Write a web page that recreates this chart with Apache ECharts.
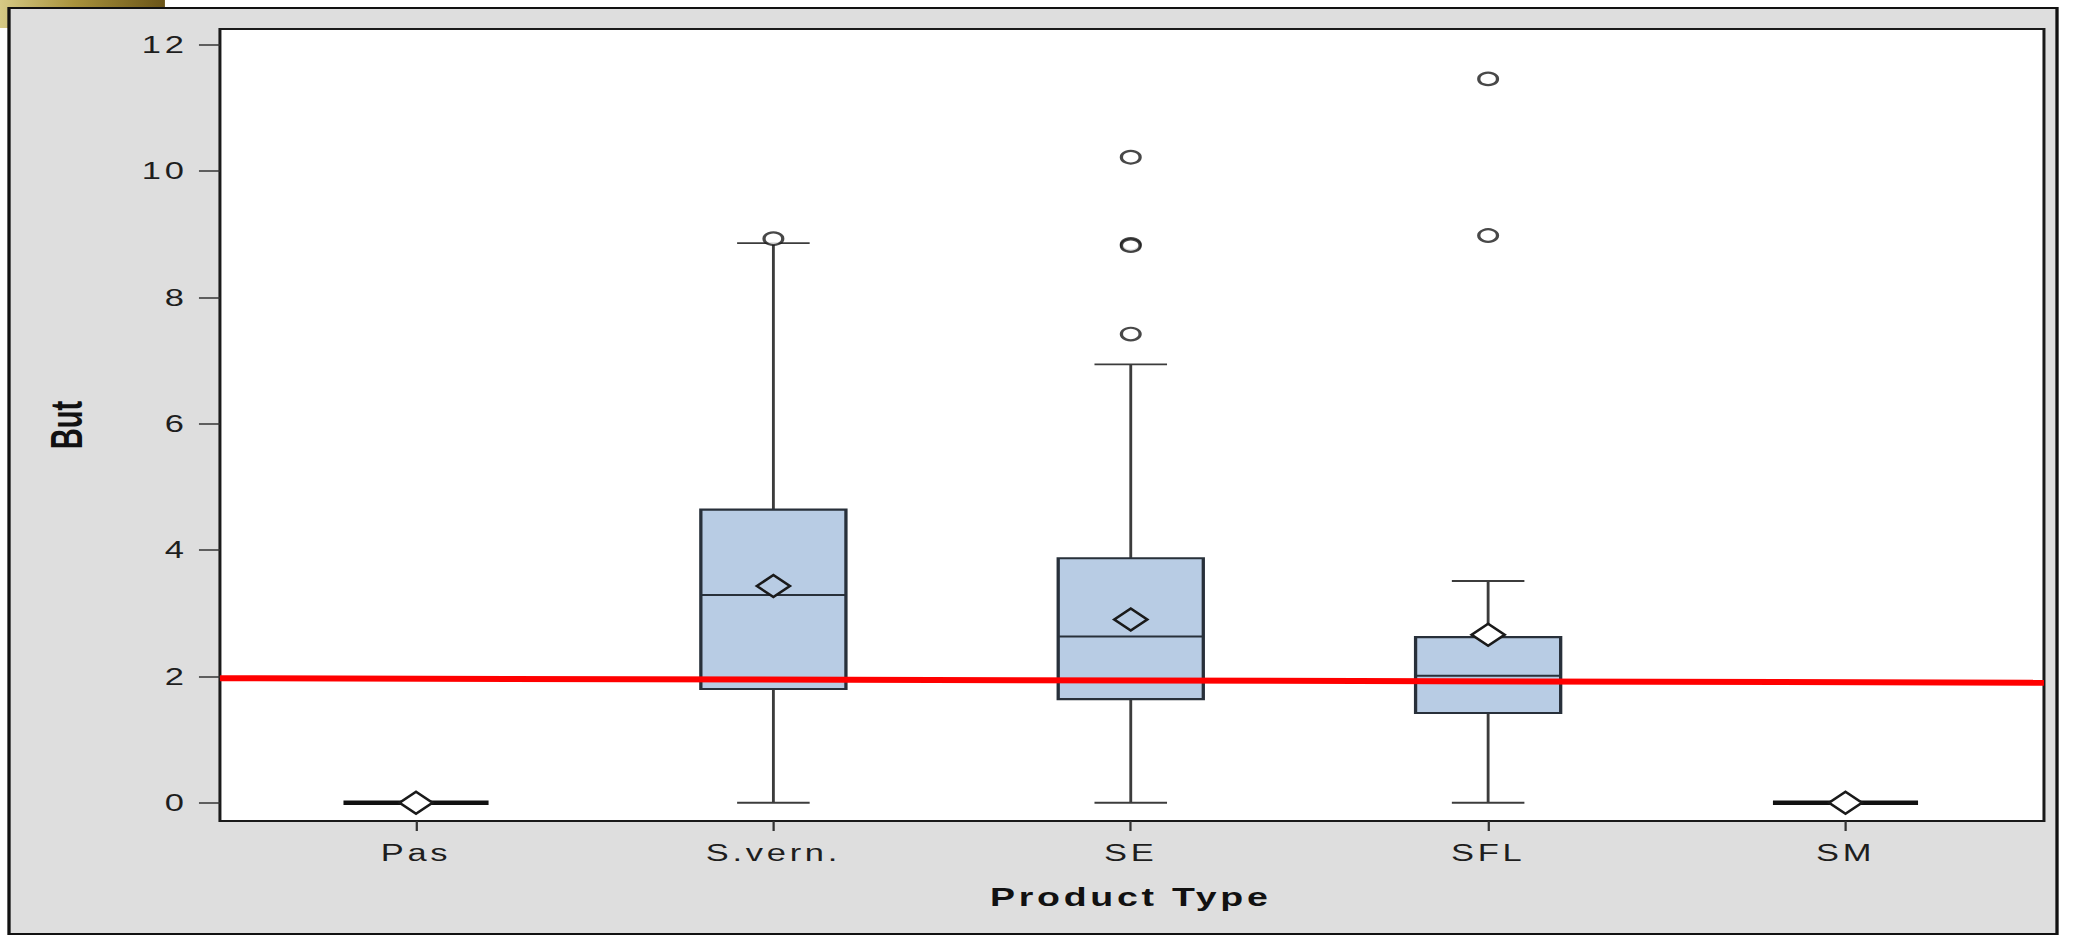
<!DOCTYPE html>
<html>
<head>
<meta charset="utf-8">
<script src="https://cdn.jsdelivr.net/npm/echarts@6/dist/echarts.min.js"></script>
<style>
  html, body { margin: 0; padding: 0; background: #ffffff; overflow: hidden; }
  #wrap { width: 2078px; height: 939px; overflow: hidden; position: relative; }
  #chart { width: 1386px; height: 939px; transform: scaleX(1.49928); transform-origin: 0 0; }
  #chart svg text { letter-spacing: 2.5px; }
  #chart svg text[style*="Narrow"] { letter-spacing: 0; }
</style>
</head>
<body>
<div id="wrap"><div id="chart"></div></div>
<script>
// ---- data ----
const categories  = ['Pas', 'S.vern.', 'SE', 'SFL', 'SM'];
const whiskerLow  = [0, 0, 0, 0, 0];
const q1          = [0, 1.80, 1.64, 1.42, 0];
const median      = [0, 3.29, 2.63, 2.01, 0];
const q3          = [0, 4.64, 3.87, 2.62, 0];
const whiskerHigh = [0, 8.86, 6.94, 3.51, 0];
const means       = [0, 3.43, 2.90, 2.66, 0];
const outliers    = [[], [8.93], [10.22, 8.84, 8.82, 7.42], [11.46, 8.98], []];
const yTicks      = [0, 2, 4, 6, 8, 10, 12];
const redLineX    = [0, 1];
const redLineY    = [1.97, 1.90];

// ---- build library data ----
const boxData = categories.map((c, i) => [i, whiskerLow[i], q1[i], median[i], q3[i], whiskerHigh[i], means[i]]);
const outlierData = [];
outliers.forEach((arr, i) => arr.forEach(v => outlierData.push([i, v])));
const redLineData = redLineX.map((x, i) => [x, redLineY[i]]);

const FONT = '"Liberation Sans", Arial, sans-serif';
const BOX_FILL = '#b8cce4';

function renderBox(params, api) {
  const i = api.value(0);
  const pLo = api.coord([i, api.value(1)]);
  const pQ1 = api.coord([i, api.value(2)]);
  const pMed = api.coord([i, api.value(3)]);
  const pQ3 = api.coord([i, api.value(4)]);
  const pHi = api.coord([i, api.value(5)]);
  const pMean = api.coord([i, api.value(6)]);
  const band = api.size([1, 0])[0];
  const bw = band * 0.406;
  const cx = pMed[0];
  const capHalf = bw / 4;
  const collapsed = Math.abs(pQ1[1] - pQ3[1]) < 1;
  const wStyle = { stroke: '#3c3c3c', lineWidth: 1.9, fill: null };
  const children = [];
  if (!collapsed) {
    children.push(
      { type: 'line', shape: { x1: cx, y1: pQ3[1], x2: cx, y2: pHi[1] }, style: wStyle },
      { type: 'line', shape: { x1: cx, y1: pQ1[1], x2: cx, y2: pLo[1] }, style: wStyle },
      { type: 'line', shape: { x1: cx - capHalf, y1: pHi[1], x2: cx + capHalf, y2: pHi[1] }, style: wStyle },
      { type: 'line', shape: { x1: cx - capHalf, y1: pLo[1], x2: cx + capHalf, y2: pLo[1] }, style: wStyle },
      { type: 'rect', shape: { x: cx - bw / 2, y: pQ3[1], width: bw, height: pQ1[1] - pQ3[1] },
        style: { fill: BOX_FILL, stroke: '#28303a', lineWidth: 2.2 } },
      { type: 'line', shape: { x1: cx - bw / 2, y1: pMed[1], x2: cx + bw / 2, y2: pMed[1] },
        style: { stroke: '#28303a', lineWidth: 2, fill: null } }
    );
  } else {
    children.push(
      { type: 'line', shape: { x1: cx - bw / 2, y1: pMed[1], x2: cx + bw / 2, y2: pMed[1] },
        style: { stroke: '#111111', lineWidth: 4.5, fill: null } }
    );
  }
  const inside = !collapsed && pMean[1] > pQ3[1] + 2 && pMean[1] < pQ1[1] - 2;
  const dw = 22, dh = 22, my = pMean[1];
  children.push({
    type: 'polygon',
    shape: { points: [[cx - dw / 2, my], [cx, my - dh / 2], [cx + dw / 2, my], [cx, my + dh / 2]] },
    style: { fill: inside ? BOX_FILL : '#ffffff', stroke: '#1a1a1a', lineWidth: 2.2 }
  });
  return { type: 'group', children: children };
}

const chart = echarts.init(document.getElementById('chart'), null, { renderer: 'svg' });
chart.setOption({
  animation: false,
  backgroundColor: 'transparent',
  graphic: {
    elements: [
      {
        type: 'rect', z: -20, silent: true,
        shape: { x: 0, y: 0, width: 110, height: 28 },
        style: {
          fill: {
            type: 'linear', x: 0, y: 0, x2: 1, y2: 0,
            colorStops: [
              { offset: 0, color: '#d6ca86' },
              { offset: 0.45, color: '#a8923c' },
              { offset: 1, color: '#6a5418' }
            ]
          }
        }
      },
      {
        type: 'rect', z: -10, silent: true,
        shape: { x: 6, y: 8, width: 1366, height: 926 },
        style: { fill: '#dedede', stroke: '#111111', lineWidth: 2.2 }
      }
    ]
  },
  grid: [
    { left: 146.7, right: 22.7, top: 29, bottom: 118, show: true, backgroundColor: '#ffffff',
      borderColor: '#1a1a1a', borderWidth: 2, containLabel: false },
    { left: 158.3, right: 35.9, top: 29, bottom: 118, show: false, containLabel: false }
  ],
  xAxis: [
    { type: 'value', gridIndex: 0, min: 0, max: 1, show: false },
    {
      type: 'category', gridIndex: 1, data: categories, boundaryGap: true, position: 'bottom',
      axisLine: { show: false, onZero: false },
      axisTick: { show: true, alignWithLabel: true, length: 10, lineStyle: { color: '#333333', width: 1.5 } },
      axisLabel: { show: true, margin: 20, fontFamily: FONT, fontSize: 23, color: '#1e1e1e' },
      splitLine: { show: false },
      name: 'Product Type', nameLocation: 'middle', nameGap: 64,
      nameTextStyle: { fontFamily: FONT, fontSize: 25, fontWeight: 'bold', color: '#111111' }
    }
  ],
  yAxis: [
    {
      type: 'value', gridIndex: 0, min: -0.29, max: 12.25,
      axisLine: { show: false, onZero: false },
      axisTick: { show: true, length: 14, customValues: yTicks, lineStyle: { color: '#333333', width: 1.5 } },
      axisLabel: { show: true, margin: 21.5, customValues: yTicks, fontFamily: FONT, fontSize: 23, color: '#1e1e1e' },
      splitLine: { show: false },
      name: 'But', nameLocation: 'middle', nameGap: 87,
      nameTextStyle: { fontFamily: '"Liberation Sans Narrow", "Liberation Sans", Arial, sans-serif', fontSize: 29, fontWeight: 'bold', color: '#111111' }
    },
    { type: 'value', gridIndex: 1, min: -0.29, max: 12.25, show: false }
  ],
  series: [
    {
      type: 'custom', name: 'box', xAxisIndex: 1, yAxisIndex: 1,
      renderItem: renderBox, data: boxData,
      encode: { x: 0, y: [1, 2, 3, 4, 5, 6] }, silent: true, z: 2
    },
    {
      type: 'scatter', name: 'outliers', xAxisIndex: 1, yAxisIndex: 1,
      data: outlierData, symbol: 'circle', symbolSize: 12.5,
      itemStyle: { color: '#ffffff', borderColor: '#1a1a1a', borderWidth: 2.2 }, silent: true, z: 3
    },
    {
      type: 'line', name: 'ref', xAxisIndex: 0, yAxisIndex: 0,
      data: redLineData, symbol: 'none', silent: true, z: 5,
      lineStyle: { color: '#ff0000', width: 6 }
    }
  ]
});
</script>
</body>
</html>
